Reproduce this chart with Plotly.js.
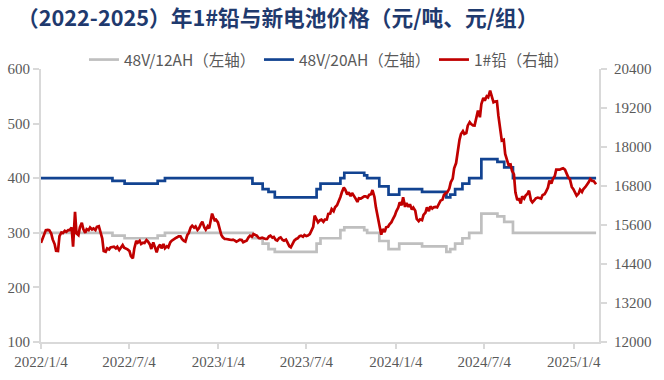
<!DOCTYPE html>
<html>
<head>
<meta charset="utf-8">
<script src="https://cdn.plot.ly/plotly-3.0.1.min.js"></script>
<style>html,body{margin:0;padding:0;background:#fff;}#chart{width:664px;height:380px;}</style>
</head>
<body>
<div id="chart"></div>
<script>
// 1# lead price (right axis), twice-weekly samples, 元/吨
const leadDates = [
"2022-01-04","2022-01-07","2022-01-11","2022-01-14","2022-01-18","2022-01-21","2022-01-25","2022-01-28","2022-02-01","2022-02-04","2022-02-08","2022-02-11",
"2022-02-15","2022-02-18","2022-02-22","2022-02-25","2022-03-01","2022-03-04","2022-03-08","2022-03-11","2022-03-15","2022-03-18","2022-03-22","2022-03-25",
"2022-03-29","2022-04-01","2022-04-05","2022-04-08","2022-04-12","2022-04-15","2022-04-19","2022-04-22","2022-04-26","2022-04-29","2022-05-03","2022-05-06",
"2022-05-10","2022-05-13","2022-05-17","2022-05-20","2022-05-24","2022-05-27","2022-05-31","2022-06-03","2022-06-07","2022-06-10","2022-06-14","2022-06-17",
"2022-06-21","2022-06-24","2022-06-28","2022-07-01","2022-07-05","2022-07-08","2022-07-12","2022-07-15","2022-07-19","2022-07-22","2022-07-26","2022-07-29",
"2022-08-02","2022-08-05","2022-08-09","2022-08-12","2022-08-16","2022-08-19","2022-08-23","2022-08-26","2022-08-30","2022-09-02","2022-09-06","2022-09-09",
"2022-09-13","2022-09-16","2022-09-20","2022-09-23","2022-09-27","2022-09-30","2022-10-04","2022-10-07","2022-10-11","2022-10-14","2022-10-18","2022-10-21",
"2022-10-25","2022-10-28","2022-11-01","2022-11-04","2022-11-08","2022-11-11","2022-11-15","2022-11-18","2022-11-22","2022-11-25","2022-11-29","2022-12-02",
"2022-12-06","2022-12-09","2022-12-13","2022-12-16","2022-12-20","2022-12-22","2022-12-27","2022-12-30",
"2023-01-03","2023-01-06","2023-01-10","2023-01-13","2023-01-17","2023-01-20","2023-01-24","2023-01-27","2023-01-31","2023-02-03","2023-02-07","2023-02-10",
"2023-02-14","2023-02-17","2023-02-21","2023-02-24","2023-02-28","2023-03-03","2023-03-07","2023-03-10","2023-03-14","2023-03-17","2023-03-21","2023-03-24",
"2023-03-28","2023-03-31","2023-04-04","2023-04-07","2023-04-11","2023-04-14","2023-04-18","2023-04-21","2023-04-25","2023-04-28","2023-05-02","2023-05-05",
"2023-05-09","2023-05-12","2023-05-16","2023-05-19","2023-05-23","2023-05-26","2023-05-30","2023-06-02","2023-06-06","2023-06-09","2023-06-13","2023-06-16",
"2023-06-20","2023-06-23","2023-06-27","2023-06-30","2023-07-04","2023-07-07","2023-07-11","2023-07-14","2023-07-18","2023-07-21","2023-07-25","2023-07-28",
"2023-08-01","2023-08-04","2023-08-08","2023-08-11","2023-08-15","2023-08-18","2023-08-22","2023-08-25","2023-08-29","2023-09-01","2023-09-05","2023-09-08",
"2023-09-12","2023-09-15","2023-09-19","2023-09-22","2023-09-26","2023-09-29","2023-10-03","2023-10-06","2023-10-10","2023-10-13","2023-10-17","2023-10-20",
"2023-10-24","2023-10-27","2023-10-31","2023-11-03","2023-11-07","2023-11-10","2023-11-14","2023-11-17","2023-11-21","2023-11-24","2023-11-28","2023-12-01",
"2023-12-05","2023-12-08","2023-12-12","2023-12-15","2023-12-19","2023-12-22","2023-12-26","2023-12-29",
"2024-01-02","2024-01-05","2024-01-09","2024-01-12","2024-01-16","2024-01-19","2024-01-23","2024-01-26","2024-01-30","2024-02-02","2024-02-06","2024-02-09",
"2024-02-13","2024-02-16","2024-02-20","2024-02-23","2024-02-27","2024-03-01","2024-03-05","2024-03-08","2024-03-12","2024-03-15","2024-03-19","2024-03-22",
"2024-03-26","2024-03-29","2024-04-02","2024-04-05","2024-04-09","2024-04-12","2024-04-16","2024-04-19","2024-04-23","2024-04-26","2024-04-30","2024-05-03",
"2024-05-07","2024-05-10","2024-05-14","2024-05-17","2024-05-21","2024-05-24","2024-05-28","2024-05-31","2024-06-04","2024-06-07","2024-06-11","2024-06-14",
"2024-06-18","2024-06-21","2024-06-25","2024-06-28","2024-07-02","2024-07-05","2024-07-09","2024-07-12","2024-07-16","2024-07-19","2024-07-23","2024-07-26",
"2024-07-30","2024-08-02","2024-08-06","2024-08-09","2024-08-13","2024-08-16","2024-08-20","2024-08-23","2024-08-27","2024-08-30","2024-09-03","2024-09-06",
"2024-09-10","2024-09-13","2024-09-17","2024-09-20","2024-09-24","2024-09-27","2024-10-01","2024-10-04","2024-10-08","2024-10-11","2024-10-15","2024-10-18",
"2024-10-22","2024-10-25","2024-10-29","2024-11-01","2024-11-05","2024-11-08","2024-11-12","2024-11-15","2024-11-19","2024-11-22","2024-11-26","2024-11-29",
"2024-12-03","2024-12-06","2024-12-10","2024-12-13","2024-12-17","2024-12-20","2024-12-24","2024-12-27","2024-12-31",
"2025-01-03","2025-01-07","2025-01-10","2025-01-14","2025-01-17","2025-01-21","2025-01-24","2025-01-28","2025-01-31","2025-02-04","2025-02-07","2025-02-11",
"2025-02-14","2025-02-18","2025-02-19"
];
const leadPrice = [
15050,15156,15289,15442,15452,15442,15340,15156,15013,14808,14800,15258,
15370,15350,15421,15391,15442,15442,15524,14930,16004,15340,15289,15524,
15667,15473,15360,15473,15442,15524,15462,15493,15442,15544,15565,15391,
15187,14798,14778,14880,14849,14911,14931,14931,14880,14931,14829,14911,
14982,14900,14880,14849,14798,14645,14573,14880,15115,15054,15115,15013,
15054,15044,15135,15095,15002,14862,15067,14913,14759,14913,14995,14882,
15016,14882,14944,14913,15067,15118,15169,15190,15221,15251,15251,15169,
15108,15087,15292,15354,15528,15580,15518,15559,15446,15497,15631,15703,
15528,15456,15559,15497,15800,15950,15750,15764,
15682,15528,15292,15221,15169,15169,15169,15149,15139,15149,15118,15087,
15118,15149,15139,15067,15098,15118,15221,15272,15241,15323,15292,15272,
15200,15190,15210,15190,15169,15169,15251,15272,15210,15231,15139,15118,
15200,15221,15139,15118,15149,15067,14944,14913,15046,15118,15169,15190,
15258,15272,15238,15293,15258,15272,15320,15424,15545,15888,15749,15683,
15749,15765,15698,15765,15769,15939,15953,16091,16025,16144,16209,16298,
16464,16606,16750,16688,16535,16606,16484,16585,16464,16421,16311,16421,
16413,16452,16484,16483,16444,16524,16546,16677,16464,16144,15800,15580,
15300,15477,15380,15529,15545,15621,15688,15785,
15892,16021,16137,16298,16209,16452,16158,16277,16158,16236,16076,16134,
16035,15785,15718,15775,15749,15908,15984,16144,16025,16175,16107,16144,
16158,16144,16239,16349,16382,16524,16587,16606,16720,16913,17026,17344,
17506,17888,18221,18401,18487,18401,18426,18657,18763,18708,18661,18657,
18916,19119,18916,19324,19509,19426,19560,19529,19733,19560,19376,19396,
19407,18965,18405,18195,18221,17785,17588,17447,17465,17272,17159,16606,
16362,16421,16260,16483,16413,16503,16566,16657,16362,16298,16362,16421,
16444,16421,16413,16524,16546,16626,16750,16965,16873,17016,17108,17303,
17302,17303,17333,17344,17302,17201,17057,17016,16771,
16708,16566,16503,16566,16688,16617,16708,16771,16831,16924,17016,16955,
16954,16873,16852
];

// 48V/20AH battery (left axis), 元/组, dates of price changes
const bat20Dates = ["2022-01-04","2022-05-31","2022-06-25","2022-09-01","2022-09-16","2023-03-15","2023-04-05","2023-04-17","2023-04-30","2023-07-25","2023-08-02","2023-09-12","2023-09-20","2023-10-31","2023-11-06","2023-12-01","2023-12-20","2024-01-11","2024-02-27","2024-04-17","2024-04-25","2024-05-05","2024-05-20","2024-06-03","2024-06-28","2024-07-31","2024-08-14","2024-09-01","2025-02-19"];
const bat20Price = [400,395,390,395,400,390,380,375,365,380,390,400,410,405,400,385,370,380,375,365,370,380,390,400,435,430,420,400,400];

// 48V/12AH battery (left axis), 元/组, dates of price changes
const bat12Dates = ["2022-01-04","2022-05-31","2022-06-25","2022-09-01","2022-09-16","2023-03-15","2023-04-05","2023-04-17","2023-04-30","2023-07-25","2023-08-02","2023-09-12","2023-09-20","2023-10-31","2023-11-06","2023-12-01","2023-12-20","2024-01-11","2024-02-27","2024-04-17","2024-04-25","2024-05-05","2024-05-20","2024-06-03","2024-06-28","2024-07-31","2024-08-14","2024-09-01","2025-02-19"];
const bat12Price = [300,295,290,295,300,290,280,270,265,280,290,305,310,305,300,285,270,280,275,265,270,280,290,300,335,330,320,300,300];

const xTickVals = ["2022-01-04","2022-07-04","2023-01-04","2023-07-04","2024-01-04","2024-07-04","2025-01-04"];
const xTickText = ["2022/1/4","2022/7/4","2023/1/4","2023/7/4","2024/1/4","2024/7/4","2025/1/4"];

const seriesNames = ["48V/12AH（左轴）","48V/20AH（左轴）","1#铅（右轴）"];
const titleText = "（2022-2025）年1#铅与新电池价格（元/吨、元/组）";

const tickFont = {family: "Liberation Serif", size: 15, color: "#595959"};
const axisGray = "#D9D9D9";

const traces = [
  {x: bat12Dates, y: bat12Price, name: seriesNames[0], type: "scatter", mode: "lines", line: {color: "#BFBFBF", width: 2.7, shape: "hv"}, yaxis: "y"},
  {x: bat20Dates, y: bat20Price, name: seriesNames[1], type: "scatter", mode: "lines", line: {color: "#124391", width: 2.7, shape: "hv"}, yaxis: "y"},
  {x: leadDates, y: leadPrice, name: seriesNames[2], type: "scatter", mode: "lines", line: {color: "#C00000", width: 2.7}, yaxis: "y2"}
];

const layout = {
  width: 664, height: 380,
  margin: {l: 41, r: 65, t: 69, b: 38},
  paper_bgcolor: "#FFFFFF", plot_bgcolor: "#FFFFFF",
  title: {text: titleText, font: {family: "Noto Sans CJK SC", size: 21.7, color: "#1F3A6E", weight: "bold"}, xref: "container", yref: "container", x: 17/664, xanchor: "left", y: 1 - 18/380, yanchor: "middle"},
  showlegend: true,
  legend: {orientation: "h", x: 0.077, xanchor: "left", y: 1.033, yanchor: "middle", font: {family: "Noto Sans CJK SC", size: 15.5, color: "#595959"}, itemwidth: 30, entrywidth: 130, entrywidthmode: "pixels", traceorder: "normal", bgcolor: "rgba(0,0,0,0)"},
  xaxis: {type: "date", range: ["2022-01-04", "2025-02-25"], tickvals: xTickVals, ticktext: xTickText, ticks: "outside", ticklen: 5, tickcolor: axisGray, tickwidth: 2, showline: true, linecolor: axisGray, linewidth: 2, showgrid: false, zeroline: false, tickfont: tickFont},
  yaxis: {range: [100, 600], dtick: 100, tick0: 100, ticks: "outside", ticklen: 6, tickcolor: axisGray, tickwidth: 2, showline: true, linecolor: axisGray, linewidth: 2, showgrid: false, zeroline: false, tickfont: tickFont},
  yaxis2: {range: [12000, 20400], dtick: 1200, tick0: 12000, tickformat: "d", overlaying: "y", side: "right", ticks: "outside", ticklen: 6, ticklabelstandoff: 4, tickcolor: axisGray, tickwidth: 2, showline: true, linecolor: axisGray, linewidth: 2, showgrid: false, zeroline: false, tickfont: tickFont}
};

Plotly.newPlot("chart", traces, layout, {displayModeBar: false, staticPlot: true});
</script>
</body>
</html>
